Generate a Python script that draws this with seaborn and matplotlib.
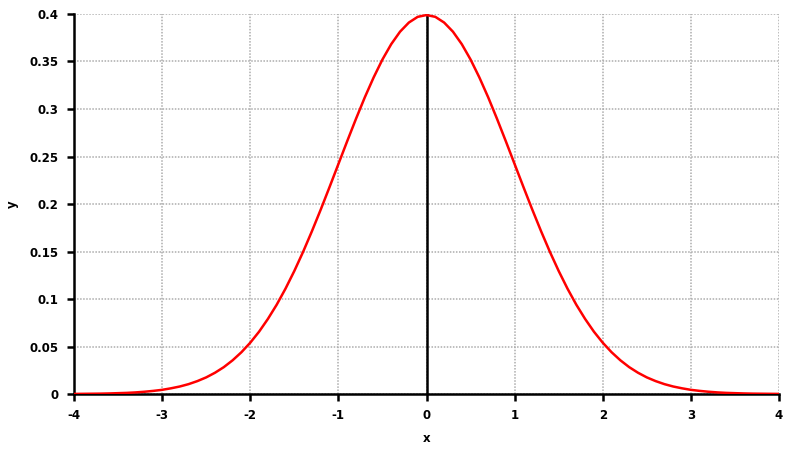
import matplotlib
matplotlib.use("Agg")
import matplotlib.pyplot as plt
import matplotlib.ticker as mticker
import pandas as pd
import seaborn as sns

# y at x = 0.0, 0.1, ..., 4.0 (the curve is symmetric about 0)
x_right = [round(i * 0.1, 1) for i in range(41)]
y_right = [0.3989, 0.3970, 0.3910, 0.3814, 0.3683, 0.3521, 0.3332, 0.3123, 0.2897, 0.2661,
           0.2420, 0.2179, 0.1942, 0.1714, 0.1497, 0.1295, 0.1109, 0.0940, 0.0790, 0.0656,
           0.0540, 0.0440, 0.0355, 0.0283, 0.0224, 0.0175, 0.0136, 0.0104, 0.0079, 0.0060,
           0.0044, 0.0033, 0.0024, 0.0017, 0.0012, 0.0009, 0.0006, 0.0004, 0.0003, 0.0002,
           0.0001]
x_vals = [-v for v in x_right[::-1][:-1]] + x_right
y_vals = y_right[::-1][:-1] + y_right

x_ticks = [-4, -3, -2, -1, 0, 1, 2, 3, 4]
y_ticks = [0, 0.05, 0.1, 0.15, 0.2, 0.25, 0.3, 0.35, 0.4]

df = pd.DataFrame({"x": x_vals, "y": y_vals})

sns.set_style("white")
plt.rcParams["font.family"] = ["DejaVu Sans"]
plt.rcParams["axes.unicode_minus"] = False

fig = plt.figure(figsize=(8, 4.5), dpi=100)
ax = fig.add_axes([0.0925, 0.1244, 0.88125, 0.8445])

ax.grid(True, color="#acacac", linestyle=(0, (1, 1)), linewidth=1.1)
ax.axvline(0, color="black", linewidth=1.8, zorder=2)
sns.lineplot(data=df, x="x", y="y", color="red", linewidth=1.8, ax=ax, zorder=3)

ax.set_xlim(-4, 4)
ax.set_ylim(0, 0.4)
ax.set_xticks(x_ticks)
ax.set_yticks(y_ticks)
ax.xaxis.set_major_formatter(mticker.FuncFormatter(lambda v, p: f"{v:g}"))
ax.yaxis.set_major_formatter(mticker.FuncFormatter(lambda v, p: f"{v:g}"))

for side in ["top", "right"]:
    ax.spines[side].set_visible(False)
for side in ["left", "bottom"]:
    ax.spines[side].set_color("black")
    ax.spines[side].set_linewidth(1.8)

ax.tick_params(axis="both", direction="out", length=5, width=1.8, color="black",
               labelcolor="black", labelsize=8.5, pad=6, left=True, bottom=True)
for lbl in ax.get_xticklabels() + ax.get_yticklabels():
    lbl.set_fontweight("bold")

ax.set_xlabel("x", fontsize=8.5, fontweight="bold", color="black", labelpad=7)
ax.set_ylabel("y", fontsize=8.5, fontweight="bold", color="black", labelpad=8)

fig.savefig("out.png", dpi=100)
